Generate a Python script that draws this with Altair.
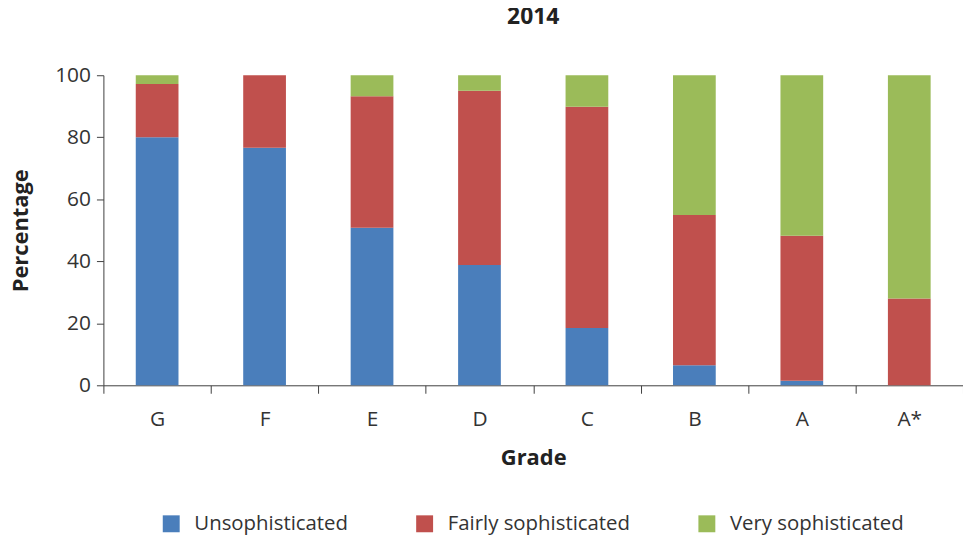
import altair as alt
import pandas as pd

grades = ["G", "F", "E", "D", "C", "B", "A", "A*"]
series = ["Unsophisticated", "Fairly sophisticated", "Very sophisticated"]
unsophisticated = [80.0, 76.6, 50.8, 38.8, 18.5, 6.5, 1.5, 0.0]
fairly = [17.2, 23.4, 42.4, 56.2, 71.3, 48.4, 46.7, 28.0]
very = [2.8, 0.0, 6.8, 5.0, 10.2, 45.1, 51.8, 72.0]
colors = ["#4A7EBB", "#C0504D", "#9BBB59"]

rows = []
for i, g in enumerate(grades):
    for k, (name, vals) in enumerate(zip(series, [unsophisticated, fairly, very])):
        rows.append({"Grade": g, "Series": name, "Value": vals[i], "order": k})
df = pd.DataFrame(rows)

FONT = "Open Sans"

chart = alt.Chart(df).mark_bar(size=43).encode(
    x=alt.X("Grade:N", sort=grades, title="Grade",
            scale=alt.Scale(paddingInner=0, paddingOuter=0),
            axis=alt.Axis(labelAngle=0, tickBand="extent", ticks=True, tickSize=8,
                          labelPadding=15, titlePadding=19, domainColor="#404040",
                          tickColor="#404040", labelFontSize=21, titleFontSize=22,
                          titleFontWeight="bold", labelColor="#333333", titleColor="#222222",
                          labelFont=FONT, titleFont=FONT)),
    y=alt.Y("Value:Q", title="Percentage", stack="zero",
            scale=alt.Scale(domain=[0, 100], nice=False),
            axis=alt.Axis(values=[0, 20, 40, 60, 80, 100], grid=False, tickSize=7,
                          labelPadding=6, titlePadding=22, domainColor="#404040",
                          tickColor="#404040", labelFontSize=21, titleFontSize=22,
                          titleFontWeight="bold", labelColor="#333333", titleColor="#222222",
                          labelFont=FONT, titleFont=FONT)),
    color=alt.Color("Series:N", sort=series,
                    scale=alt.Scale(domain=series, range=colors),
                    legend=alt.Legend(title=None, orient="none", direction="horizontal",
                                      legendX=58, legendY=441, symbolType="square",
                                      symbolSize=290, symbolStrokeWidth=0,
                                      labelFontSize=20.5, labelFont=FONT, labelColor="#333333",
                                      labelLimit=400, columnPadding=66, labelOffset=13)),
    order=alt.Order("order:Q"),
).properties(
    width=865,
    height=312,
    title=alt.TitleParams("2014", fontSize=23, font=FONT, fontWeight="bold",
                          color="#222222", anchor="middle", offset=36),
    padding={"left": 96, "top": 66, "right": 0, "bottom": 151},
    autosize=alt.AutoSizeParams(type="none"),
).configure_view(stroke=None)

chart.save("out.html", embed_options={"renderer": "svg", "actions": False})
